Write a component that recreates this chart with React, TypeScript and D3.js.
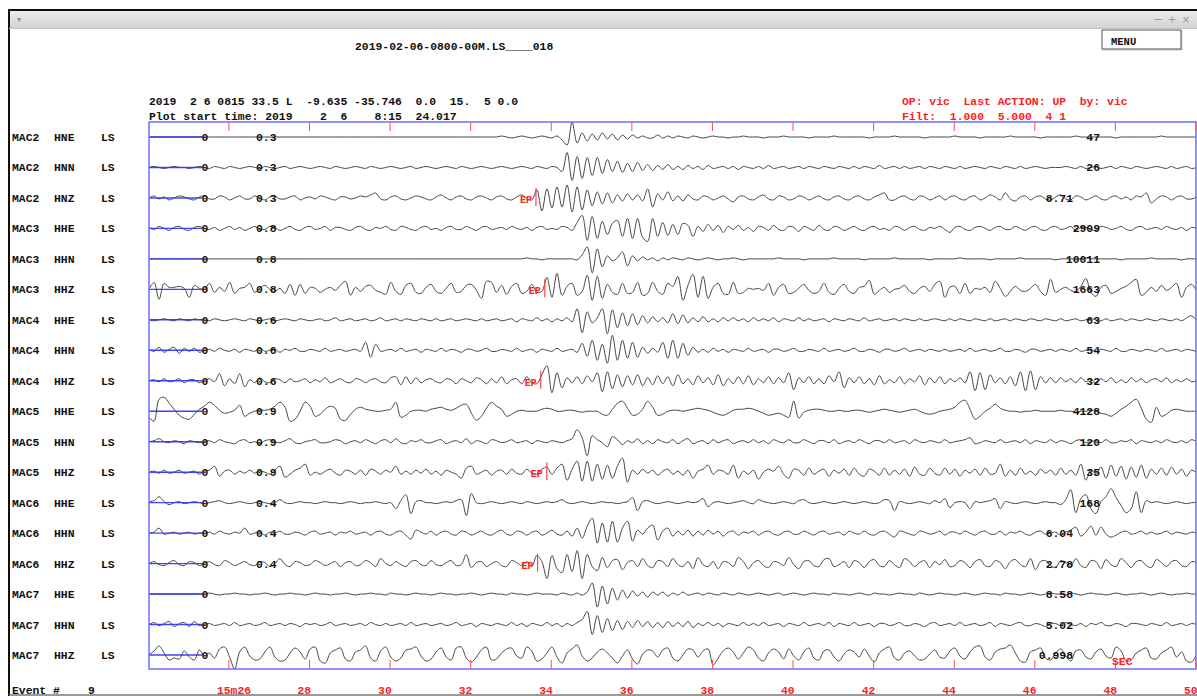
import React from "react";
import * as d3 from "d3";

// ---------- header / annotation text ----------
const FILE_TITLE = "2019-02-06-0800-00M.LS____018";
const HYPO_LINE = "2019  2 6 0815 33.5 L  -9.635 -35.746  0.0  15.  5 0.0";
const START_LINE = "Plot start time: 2019    2  6    8:15  24.017";
const OP_LINE = "OP: vic  Last ACTION: UP  by: vic";
const FILT_LINE = "Filt:  1.000  5.000  4 1";
const EVENT_LABEL = "Event #";
const EVENT_NO = "9";
const UNIT_LABEL = "SEC";

// ---------- time axis ----------
const T_START = 24.017;
const T_END = 50;
const DT = 0.125;
const TICK_SECONDS = [26, 28, 30, 32, 34, 36, 38, 40, 42, 44, 46, 48, 50];
const TICK_LABELS = ["15m26", "28", "30", "32", "34", "36", "38", "40", "42", "44", "46", "48", "50"];
const BASELINE_END_T = 25.33;

// ---------- channels ----------
const STATIONS = ["MAC2", "MAC2", "MAC2", "MAC3", "MAC3", "MAC3", "MAC4", "MAC4", "MAC4", "MAC5", "MAC5", "MAC5", "MAC6", "MAC6", "MAC6", "MAC7", "MAC7", "MAC7"];
const COMPONENTS = ["HNE", "HNN", "HNZ", "HHE", "HHN", "HHZ", "HHE", "HHN", "HHZ", "HHE", "HHN", "HHZ", "HHE", "HHN", "HHZ", "HHE", "HHN", "HHZ"];
const NETWORK = "LS";
const SCALE_LABELS = ["0.3", "0.3", "0.3", "0.8", "0.8", "0.8", "0.6", "0.6", "0.6", "0.9", "0.9", "0.9", "0.4", "0.4", "0.4", "", "", ""];
const MAX_AMPS = ["47", "26", "8.71", "2909", "10011", "1663", "63", "54", "32", "4128", "120", "35", "168", "6.04", "2.78", "8.58", "5.02", "0.998"];

// P picks: trace index and time (s)
const EP_TRACES = [2, 5, 8, 11, 14];
const EP_TIMES = [33.62, 33.84, 33.74, 33.89, 33.66];

// ---------- waveform samples (every 0.125 s from plot start) ----------
const W_MAC2_HNE = [
  0,0,0,0,0,0,0,0,0,0,0,0,0,0,0,0,0,0,0,0,
  0,0,0,0,0,0,0,0,0,0,0,0,0,0,0,0,0,0,0,0,
  0,0,0,0,0,0,0,0,0,0,0,0,0,0,0,0,0,0,0,0,
  0,0,0,0,0,0,0,0,0,0,1,0,-1,0,1,0,-1,0,1,0,
  -1,1,-3,-8,15,-6,4,-4,3,-3,4,-2,3,-3,2,-2,2,-1,1,-1,
  -1,2,-1,1,-1,1,0,-1,1,0,-1,0,1,0,0,-1,0,0,1,0,
  0,0,-1,0,0,0,1,0,0,0,0,-1,0,0,0,0,1,0,0,0,
  0,0,0,-1,0,0,0,0,1,0,0,0,0,0,-1,0,0,0,0,0,
  1,0,0,0,0,-1,0,0,0,0,0,1,0,0,0,0,0,-1,0,0,
  0,0,0,0,1,0,0,0,0,0,0,0,-1,0,0,0,0,0,0,0,
  0,1,0,0,0,0,0,0,0,
];
const W_MAC2_HNN = [
  0,1,0,-1,0,1,0,0,-1,0,1,0,-1,1,0,-1,1,0,-1,0,
  1,0,-1,1,0,-1,0,1,-1,0,1,0,-1,0,1,0,-1,1,0,-1,
  0,1,0,-1,1,0,-1,0,1,0,-1,0,1,-1,0,1,0,-1,0,1,
  0,-1,1,0,-1,0,1,0,-1,0,1,0,-1,0,1,0,-1,1,0,-1,
  1,0,-4,15,-13,11,-11,10,-8,10,-6,8,-4,6,-5,4,-4,5,-3,3,
  -3,2,-2,3,-2,1,-2,2,-1,1,-2,2,-1,0,1,-1,1,-2,1,0,
  -1,1,-1,2,-1,0,1,-1,0,1,-1,1,0,-1,1,0,-1,1,0,-1,
  1,-1,1,0,-1,2,-1,0,1,-1,1,-1,0,1,-1,1,0,-1,1,0,
  -1,1,-1,0,1,0,-1,1,0,-1,1,0,-1,1,-1,0,1,0,-1,0,
  0,0,1,0,-1,1,-1,0,1,-1,0,1,-1,1,0,-1,1,0,-1,0,
  1,0,-1,1,-1,0,1,-1,0,
];
const W_MAC2_HNZ = [
  0,2,-1,1,-2,0,2,1,-1,-2,1,2,-1,-1,2,1,-2,0,2,-1,
  -1,2,0,-2,1,2,-1,-1,1,2,-2,0,1,-1,2,1,-1,-2,1,1,
  -1,0,2,1,3,5,-1,-2,1,2,-1,-2,0,2,1,-1,-2,1,3,0,
  -2,1,2,-1,-2,1,2,0,-2,1,2,-1,-2,1,3,-1,-2,8,-13,9,
  -10,11,-9,13,-14,11,-12,8,-8,6,-6,5,-5,3,-3,4,-2,3,-3,9,
  -9,4,-2,6,-3,2,-3,3,-1,-2,2,1,-2,0,2,-1,-4,1,2,-1,
  -2,1,3,-1,-2,2,1,-2,-1,2,1,-2,0,2,-1,-2,1,2,-1,-2,
  1,2,-1,-2,1,3,5,-2,-2,1,2,-1,-2,2,1,-2,0,2,-2,1,
  2,-1,-2,1,2,-2,0,3,1,-2,5,-1,-3,1,2,-2,1,2,-1,-2,
  1,3,-1,-2,2,1,-2,0,2,-1,-2,1,2,-1,1,-2,2,1,5,-5,
  -1,2,1,-2,1,2,-1,-1,1,
];
const W_MAC3_HHE = [
  1,-1,2,0,-2,1,2,-1,-2,1,2,0,-1,1,-2,0,2,-1,1,-2,
  0,2,-1,-1,2,1,-2,0,2,-1,-2,1,2,-1,0,2,-2,1,1,-1,
  -2,1,2,-1,-2,1,0,2,-1,-2,2,1,-1,-2,1,2,-1,0,-2,1,
  2,-1,-1,2,0,-2,1,2,-1,0,1,-1,2,0,-1,1,-2,1,2,-1,
  0,-1,2,1,-2,6,13,-12,12,-10,7,-6,5,8,-8,10,-10,10,-9,-13,
  10,-8,6,-7,4,-6,5,3,-8,2,-3,4,-2,3,-4,2,-1,3,-2,1,
  -3,2,1,-2,3,-1,-2,2,1,-3,2,0,-2,3,-1,-2,2,1,-2,0,
  2,-1,-2,1,2,-1,0,-2,2,1,-2,1,2,-1,-2,1,0,2,-1,-4,
  1,2,-1,-2,1,2,0,-2,1,2,-1,-1,2,0,-2,1,2,-1,-2,1,
  2,-1,0,2,-2,1,1,-1,-2,2,1,-1,0,2,-1,-2,1,2,-1,0,
  1,-1,2,0,-1,1,-2,1,0,
];
const W_MAC3_HHN = [
  0,0,0,0,0,0,0,0,0,0,0,0,0,0,0,0,0,0,0,0,
  0,0,0,0,0,0,0,0,0,0,0,0,0,0,0,0,0,0,0,0,
  0,0,0,0,0,0,0,0,0,0,0,0,0,0,0,0,0,0,0,0,
  0,0,0,0,0,0,0,0,0,0,0,0,0,0,0,1,0,0,-1,0,
  0,0,0,0,0,-1,4,12,-14,10,-8,3,-2,1,7,-7,3,-2,2,-1,
  1,-2,1,-1,1,0,-1,1,0,-1,0,1,0,-1,0,0,1,0,-1,0,
  0,0,0,0,0,1,0,0,0,0,-1,0,0,0,0,0,1,0,0,0,
  0,0,-1,0,0,0,0,0,1,0,0,0,0,0,0,-1,0,0,0,0,
  0,1,0,0,0,0,0,-1,0,0,0,0,0,1,0,0,0,0,0,0,
  -1,0,0,0,0,0,1,0,0,0,0,0,0,-1,0,0,0,0,0,1,
  0,0,0,0,0,-1,0,0,0,
];
const W_MAC3_HHZ = [
  0,7,-10,6,2,2,3,1,-8,4,1,0,6,-3,2,-2,7,-4,1,2,
  6,-3,1,4,0,-2,1,-4,5,-6,5,-4,2,1,-3,0,2,-1,4,8,
  -6,2,-2,3,4,-1,-3,-5,7,-2,-5,4,6,-3,-4,2,5,-2,-4,1,
  6,-3,-2,4,5,-1,-9,8,7,-3,4,-5,3,6,-4,-2,5,-3,-2,12,
  -8,16,-6,3,6,-6,-2,14,-11,13,-9,5,-3,-5,6,-4,-3,7,-6,-4,
  7,-2,-5,6,3,13,-11,4,15,-8,13,-9,2,6,-4,-5,7,-4,-3,1,
  0,1,-1,6,-6,2,5,-4,-3,1,5,-1,-4,-2,6,-3,-5,1,5,-2,
  -4,2,3,9,-5,-1,2,-3,0,1,4,-2,-4,1,3,-2,5,8,-8,2,
  3,-4,6,-4,1,0,2,-3,8,1,-7,-2,3,-1,-2,1,5,-2,-6,10,
  -3,0,2,-1,-2,3,11,-3,-7,2,4,-4,-2,1,3,7,10,-6,-3,2,
  -2,4,-1,2,6,-8,2,5,-2,
];
const W_MAC4_HHE = [
  0,-1,0,1,0,-1,1,0,-1,1,0,0,-1,1,0,-1,0,1,0,-1,
  1,0,-1,0,1,-1,0,1,0,-1,1,0,-1,0,1,-1,0,2,-1,0,
  1,-1,0,1,-1,0,2,-1,0,1,-1,1,0,-1,1,0,-1,1,-1,0,
  1,-1,0,1,0,-1,1,-1,0,1,-1,0,1,-2,1,0,-1,2,-1,1,
  -2,1,-1,2,-2,11,-13,8,-3,2,11,-14,10,-8,7,-6,6,-5,4,-3,
  3,-2,2,-3,6,-4,5,-3,2,-2,3,-2,1,-2,2,-1,2,-1,1,-2,
  2,-1,1,-1,2,-2,1,0,-1,2,-1,1,-1,0,1,-2,1,0,-1,1,
  0,-1,2,-1,0,1,-1,0,1,-1,1,0,-1,1,-1,0,1,0,-1,1,
  -1,1,0,-1,1,0,-1,1,-1,0,1,-1,1,0,-1,1,0,-1,1,0,
  -1,1,-1,0,1,-1,0,1,0,-1,1,-1,0,1,-1,1,0,-1,1,0,
  -1,1,0,-1,1,-1,2,4,-1,
];
const W_MAC4_HHN = [
  1,-1,3,-2,1,3,-3,2,-1,2,-2,0,1,-1,2,0,-1,1,-2,1,
  0,-1,2,-1,0,1,-2,1,0,2,-1,-1,1,0,-1,2,-1,0,1,-1,
  0,1,-1,8,-7,6,-1,0,1,-1,2,-1,0,1,-2,1,0,-1,2,-1,
  1,0,-2,1,1,-1,0,2,-1,-1,1,0,-1,2,-1,0,1,-2,1,0,
  -1,2,-1,0,1,-2,7,-6,10,-10,6,-13,15,-10,10,-8,8,-7,3,-3,
  2,-2,8,-8,10,-8,7,-5,3,-2,1,-2,2,-1,1,-2,1,0,-1,2,
  -1,0,1,-2,1,1,-1,0,2,-1,-1,1,0,-1,2,-1,0,1,-1,0,
  2,-1,-1,1,0,-2,1,1,-1,0,2,-1,0,1,-1,1,0,-1,1,-1,
  0,1,-1,2,-1,0,1,-1,0,2,-1,-1,1,0,-2,1,1,-1,0,1,
  -1,1,0,-1,2,-1,0,1,-1,1,0,-1,2,-1,-1,1,0,-1,1,0,
  -1,2,-1,0,1,-1,1,0,-1,
];
const W_MAC4_HHZ = [
  0,1,-1,2,-1,0,2,-2,1,1,-2,0,2,-1,7,-5,2,-3,7,-6,
  1,-2,3,-1,-2,2,1,-2,2,-1,0,2,-2,1,-1,3,-2,0,2,-1,
  -2,2,1,-2,1,2,-1,-2,3,4,-4,4,-3,3,-2,1,2,-1,-2,2,
  1,-3,2,0,-2,3,1,-3,2,-2,4,-3,1,2,-3,4,-2,-3,6,15,
  -12,8,-7,3,-2,4,-3,5,-1,8,-11,9,-8,6,-6,5,-4,6,-5,3,
  -4,5,-3,4,-5,6,-3,2,-4,5,-2,3,-4,6,-5,2,-3,4,-3,5,
  -4,2,-2,4,-3,3,-2,8,-9,3,-2,4,-3,2,-3,5,-1,9,-7,3,
  -2,4,-3,2,-4,5,-3,1,-2,4,-3,2,-1,5,-4,3,-2,4,-3,2,
  -1,3,-2,9,-10,8,-9,6,-2,3,-3,4,-5,9,-10,10,-9,4,-2,3,
  -2,3,-1,2,-2,3,-1,2,-3,2,-1,3,-2,1,-2,3,-1,2,-2,1,
  2,-1,3,-2,1,-1,2,-1,0,
];
const W_MAC5_HHE = [
  -6,-10,12,14,8,2,-4,-7,-8,-3,2,5,9,6,1,-2,-1,1,6,-5,
  -2,0,1,1,2,5,9,4,-10,-8,0,9,5,-5,-3,2,5,3,-8,-9,
  -3,2,4,2,1,0,0,1,2,9,-6,-4,0,1,1,0,2,3,4,2,
  1,3,6,7,-2,-9,-5,3,9,5,2,-5,-3,0,1,0,0,0,2,3,
  2,0,0,1,1,0,-1,0,0,0,-3,-4,2,8,10,3,-4,-3,2,10,
  4,-4,-3,0,1,1,0,1,2,3,2,1,-1,-3,-4,-2,1,2,2,3,
  2,0,-2,-4,-3,-2,-4,-6,10,-7,-1,1,2,2,1,0,0,1,0,0,
  1,1,0,-1,0,1,2,1,0,-1,0,1,2,0,-2,-3,-2,0,1,2,
  4,9,11,2,-8,-5,0,3,7,3,1,0,0,-1,0,0,1,0,0,0,
  0,1,0,0,-1,0,0,1,0,-2,-3,-5,-2,2,5,9,12,3,-8,-11,
  4,-5,-3,1,2,1,0,0,0,
];
const W_MAC5_HHN = [
  0,1,3,0,-1,1,0,-2,1,0,-1,0,1,-1,2,0,-1,-2,1,2,
  -1,0,-2,1,2,0,-1,1,3,-1,-2,0,1,2,-1,-1,0,2,1,-2,
  0,1,-1,2,0,-2,1,2,-1,3,-1,-2,1,0,2,-1,-1,1,2,-2,
  0,1,-1,3,-2,1,0,-2,2,1,-1,0,2,-1,0,1,-2,1,0,-1,
  1,0,-1,1,3,12,4,-14,6,2,-1,-5,5,2,-3,1,-1,3,-2,1,
  -2,2,0,-1,2,-2,1,3,-2,0,1,-2,2,-1,1,2,-2,0,1,-1,
  2,-1,1,-2,2,0,-1,2,-1,-1,2,0,-2,1,1,-1,2,-2,0,1,
  -1,2,0,-2,1,1,-1,2,-1,0,1,-2,2,0,-1,1,0,-1,2,-1,
  0,1,2,4,-2,-1,1,0,-1,2,-1,0,1,-1,2,-2,1,0,-1,2,
  -1,1,0,-2,1,2,-1,0,1,-1,2,-1,-1,1,0,2,-2,1,0,-1,
  1,-1,2,0,-1,1,-1,2,0,
];
const W_MAC5_HHZ = [
  0,1,-1,2,-1,0,2,-1,0,1,-2,1,2,6,-4,1,2,-2,1,-1,
  2,-1,1,0,-2,2,6,-5,-2,2,4,8,-3,0,-2,1,3,-1,-3,2,
  1,-2,2,-3,3,1,-2,2,0,6,-2,1,-2,2,-1,3,-2,1,-3,2,
  0,-2,-6,4,6,-2,0,2,-3,1,2,-2,3,-1,-2,3,-1,-2,3,5,
  -2,4,8,-8,3,11,-9,11,-9,8,-7,7,-6,6,14,-10,2,-2,3,-1,
  2,-3,1,3,-2,1,-3,2,-6,1,3,7,-2,2,1,-2,7,-6,1,-2,
  2,-7,0,3,1,6,-2,-6,3,2,-3,4,-2,1,3,-4,2,-1,3,-3,
  4,-2,-4,3,1,-3,4,-3,2,-2,3,-4,5,-2,-3,4,-1,-3,4,-2,
  3,-4,2,-1,3,-3,4,-2,-1,8,-4,2,-3,4,-2,1,-3,3,-1,2,
  -3,4,-2,2,-3,8,-8,3,-2,5,-6,7,-4,6,-7,5,-5,7,-6,3,
  -2,4,-3,5,-2,3,-4,2,-1,
];
const W_MAC6_HHE = [
  1,2,6,1,-2,0,1,-1,0,1,0,-1,0,1,2,0,-1,0,1,0,
  -1,0,1,0,-1,0,3,0,-1,0,1,0,0,-1,0,1,0,0,-1,0,
  1,0,-1,0,0,1,0,-1,0,-6,2,8,-11,1,2,0,0,-1,0,1,
  0,2,3,-13,9,0,-1,0,1,0,-1,0,1,0,-1,1,0,-1,0,1,
  0,1,3,0,-1,0,1,0,-1,0,1,0,0,-1,0,1,5,-8,1,2,
  0,-1,0,1,0,-1,0,1,0,1,4,-4,0,1,0,-1,0,1,2,0,
  -1,3,1,0,-1,0,1,0,-1,2,3,0,-1,0,1,0,-1,0,1,0,
  -1,0,1,0,-1,0,3,2,-8,1,0,-1,0,1,0,-1,2,0,4,-5,
  0,1,0,-6,1,0,1,2,4,-6,1,0,-1,0,1,0,-1,0,1,0,
  0,-2,3,13,-10,4,8,-6,-11,1,6,14,5,-3,-10,-6,11,-10,2,0,
  1,0,-1,0,1,0,-1,0,0,
];
const W_MAC6_HHN = [
  0,1,5,-1,0,1,-1,0,1,-1,0,0,1,-1,2,0,-1,1,0,5,
  -1,0,1,-2,1,0,2,-1,-1,1,0,-2,1,2,-1,0,1,-2,1,0,
  2,-1,0,1,-2,1,2,-1,-2,1,2,-2,-6,3,1,-1,2,-2,1,2,
  -1,-2,2,1,-2,0,2,-1,-2,1,3,-1,-2,2,1,-2,1,2,-2,0,
  3,-1,-2,2,-3,5,-5,7,15,-10,10,-9,12,-9,5,12,-8,3,-1,5,
  8,-7,2,5,-3,2,-2,3,-3,2,-2,3,-1,2,-3,1,2,-2,1,0,
  2,-2,1,2,-1,-2,1,2,-1,-1,2,0,-2,1,2,-1,0,1,-2,2,
  0,-1,2,-1,-2,1,2,-1,-4,2,1,-1,-2,2,1,-1,0,2,-2,1,
  1,-1,2,0,-2,1,2,-1,-1,2,-2,1,0,2,-1,-2,1,2,-1,0,
  1,-2,1,3,6,-3,1,7,-2,6,-1,-4,-2,1,2,-1,0,2,-1,1,
  -1,0,2,-1,1,0,-1,1,0,
];
const W_MAC6_HHZ = [
  0,2,-1,-2,1,3,-1,-2,2,1,-2,0,2,-1,-2,3,1,-2,0,2,
  -1,-2,2,1,-3,0,5,-1,-3,2,1,-2,-1,3,1,-2,0,2,-3,1,
  2,-2,-1,3,1,-3,5,0,-2,2,-1,-3,2,3,-1,-2,3,-1,-2,1,
  3,-2,-1,9,-4,1,2,-3,0,2,-2,-3,3,1,-2,2,-3,8,2,-15,
  8,-5,-9,9,-8,13,-15,9,-3,-7,6,-4,3,4,-6,1,3,-3,5,-2,
  -4,3,2,-3,5,-1,-3,2,-5,6,-1,-3,2,-5,2,1,-3,6,2,-5,
  1,3,-2,-4,2,1,-2,6,-1,-5,2,3,-2,-3,4,5,-3,-1,2,-4,
  3,1,-4,2,4,-2,-3,3,-1,-4,5,2,-3,1,3,-4,2,-1,4,-3,
  -2,3,1,-4,2,4,-2,-3,3,1,-5,2,4,-1,-3,5,-6,2,3,-2,
  -4,3,1,-3,5,-2,-4,3,2,-5,4,-1,-3,5,1,-4,2,3,-2,-4,
  4,1,-3,2,3,-2,-3,2,1,
];
const W_MAC7_HHE = [
  0,0,0,0,0,0,0,0,0,0,0,0,1,0,-1,0,0,1,0,0,
  -1,0,0,1,0,-1,0,0,1,0,0,-1,0,1,0,0,-1,0,0,1,
  0,-1,0,0,1,0,0,-1,1,0,0,-1,0,1,0,0,-1,0,1,0,
  0,-1,0,0,1,0,-1,0,1,0,0,-1,1,0,0,-1,0,1,0,0,
  0,-1,1,0,-1,1,-1,2,11,-13,8,-10,6,-6,4,-4,3,-2,2,-3,
  2,-1,2,-2,1,-1,2,-1,0,1,-1,1,0,-1,1,0,-1,1,0,-1,
  0,1,0,-1,0,1,-1,0,1,0,-1,0,1,0,0,-1,1,0,0,-1,
  0,1,0,-1,1,0,0,-1,0,1,0,0,-1,1,0,-1,0,1,0,0,
  -1,0,1,0,-1,0,1,0,0,-1,1,0,0,-1,0,1,0,-1,0,1,
  0,0,-1,1,0,-1,0,1,0,0,-1,0,1,0,-1,0,0,1,0,-1,
  0,1,0,-1,0,0,1,0,0,
];
const W_MAC7_HHN = [
  0,2,-1,1,3,-2,1,2,-2,3,-1,0,1,-1,0,1,-1,2,-1,0,
  1,-1,0,2,-1,0,1,-1,1,0,-2,1,0,1,-1,0,2,-1,0,1,
  -1,0,1,-1,2,0,-1,1,-1,0,1,-1,2,-1,0,1,-1,0,1,-1,
  0,2,-1,0,1,-2,1,0,-1,1,0,-1,2,-1,1,-2,1,0,-1,2,
  -1,1,-2,1,-1,2,5,13,-10,9,-8,6,-6,4,-5,3,-3,4,-2,3,
  -3,2,-3,3,-2,2,-2,3,-3,1,-1,2,-1,1,-2,1,0,-1,2,-1,
  1,-1,2,-1,0,1,-2,1,0,-1,2,-1,0,1,-1,2,-2,1,0,-1,
  2,-1,0,1,-2,1,1,-1,0,2,-1,-1,1,0,-2,1,2,-1,0,1,
  -1,2,-1,0,1,-1,0,2,-2,1,0,-1,1,2,-1,-1,1,0,-2,1,
  1,-1,2,0,-1,1,-2,1,0,2,-1,-1,1,0,-2,1,1,0,-1,1,
  0,-1,2,-1,0,1,-1,1,0,
];
const W_MAC7_HHZ = [
  0,4,9,2,-5,-3,-4,4,-2,-5,5,-1,2,-3,6,8,-2,-14,3,8,
  -1,-5,-4,3,8,-2,-6,-5,2,7,3,-4,6,8,-6,-8,2,5,7,-4,
  -6,3,5,9,-3,-6,4,8,-2,-6,-3,5,6,8,-1,-6,-4,3,7,-2,
  -5,7,8,-3,-7,-2,5,8,-5,-4,2,6,7,-1,-3,8,4,-6,-4,2,
  8,-2,-8,2,6,10,-1,-6,-3,3,6,2,-3,-8,-1,5,-4,-9,1,5,
  4,-2,5,7,-3,-6,0,6,5,-2,4,6,-10,-3,4,7,3,-4,2,8,
  5,-3,-6,2,6,3,-4,6,-1,-5,3,7,-3,-5,4,5,-2,-6,1,5,
  3,-2,6,-1,-7,2,6,8,-3,-5,2,4,-1,-5,-4,1,5,-2,-3,4,
  7,-1,-4,3,8,9,-2,-5,3,6,7,10,2,-6,-7,3,5,7,-3,-5,
  2,6,-1,-6,4,5,-2,-4,3,6,-1,-3,8,4,-6,-5,2,5,7,-3,
  -4,2,5,8,-2,3,-6,-7,1,
];

const WAVEFORMS = [
  W_MAC2_HNE, W_MAC2_HNN, W_MAC2_HNZ,
  W_MAC3_HHE, W_MAC3_HHN, W_MAC3_HHZ,
  W_MAC4_HHE, W_MAC4_HHN, W_MAC4_HHZ,
  W_MAC5_HHE, W_MAC5_HHN, W_MAC5_HHZ,
  W_MAC6_HHE, W_MAC6_HHN, W_MAC6_HHZ,
  W_MAC7_HHE, W_MAC7_HHN, W_MAC7_HHZ,
];

const FONT = "'Liberation Mono', 'DejaVu Sans Mono', monospace";
const FS = 11.4;

export default function App() {
  React.useEffect(() => {
    document.body.style.margin = "0";
  }, []);

  const W = 1197;
  const H = 696;
  const box = { left: 149, right: 1196, top: 122, bottom: 669 };

  const x = d3.scaleLinear().domain([T_START, T_END]).range([box.left, box.right]);
  const rowY = d3
    .scalePoint<number>()
    .domain(d3.range(STATIONS.length))
    .range([137, 655]);
  const ampPx = d3.scaleLinear().domain([-15, 15]).range([15, -15]);

  const makePath = (data: number[], cy: number) =>
    d3
      .line<number>()
      .x((_, i) => x(T_START + i * DT))
      .y((v) => cy + ampPx(v))
      .curve(d3.curveCatmullRom.alpha(0.5))(data) || "";

  const red = "#ff2020";

  return (
    <div style={{ position: "absolute", left: 0, top: 0 }}>
      <svg width={W} height={H} style={{ display: "block", background: "#fff" }}>
        <defs>
          <linearGradient id="tb" x1="0" y1="0" x2="0" y2="1">
            <stop offset="0" stopColor="#ececec" />
            <stop offset="1" stopColor="#d2d2d2" />
          </linearGradient>
          <clipPath id="plotclip">
            <rect x={box.left} y={box.top - 20} width={box.right - box.left} height={box.bottom - box.top + 40} />
          </clipPath>
        </defs>
        <rect x={0} y={0} width={W} height={H} fill="#fff" />

        {/* window chrome */}
        <rect x={9} y={11} width={W - 9} height={17} fill="url(#tb)" />
        <line x1={8} x2={W} y1={10} y2={10} stroke="#111" strokeWidth={2} />
        <line x1={9} x2={9} y1={10} y2={H} stroke="#111" strokeWidth={2} />
        <line x1={9} x2={W} y1={28.5} y2={28.5} stroke="#c4c4c4" strokeWidth={1} />
        <line x1={9} x2={W} y1={695} y2={695} stroke="#777" strokeWidth={1.5} />
        <text x={17} y={22} fontSize={8} fill="#888" fontFamily="DejaVu Sans">▾</text>
        <text x={1158} y={23} fontSize={11} fill="#999" fontFamily="DejaVu Sans" textAnchor="middle">−</text>
        <text x={1172} y={23} fontSize={11} fill="#999" fontFamily="DejaVu Sans" textAnchor="middle">+</text>
        <text x={1186} y={23} fontSize={10} fill="#999" fontFamily="DejaVu Sans" textAnchor="middle">×</text>

        {/* MENU button */}
        <rect x={1102} y={30} width={79} height={19} fill="#fff" stroke="#555" strokeWidth={1} />
        <line x1={1181.5} x2={1181.5} y1={30} y2={50} stroke="#999" strokeWidth={1.5} />
        <line x1={1102} x2={1182} y1={49.5} y2={49.5} stroke="#999" strokeWidth={1.5} />
        <text x={1111} y={44.5} fontFamily={FONT} fontWeight="bold" fontSize={10.5} fill="#111">MENU</text>

        {/* header */}
        <g fontFamily={FONT} fontWeight="bold" fontSize={FS} style={{ whiteSpace: "pre" }}>
          <text x={355} y={50} fill="#111" xmlSpace="preserve">{FILE_TITLE}</text>
          <text x={149} y={105} fill="#111" xmlSpace="preserve">{HYPO_LINE}</text>
          <text x={149} y={120} fill="#111" xmlSpace="preserve">{START_LINE}</text>
          <text x={902} y={105} fill={red} xmlSpace="preserve">{OP_LINE}</text>
          <text x={902} y={120} fill={red} xmlSpace="preserve">{FILT_LINE}</text>
        </g>

        {/* traces */}
        <g clipPath="url(#plotclip)">
          {WAVEFORMS.map((w, k) => (
            <path key={"w" + k} d={makePath(w, rowY(k)!)} fill="none" stroke="#474747" strokeWidth={1} />
          ))}
        </g>
        {WAVEFORMS.map((_, k) => (
          <line
            key={"bl" + k}
            x1={x(T_START)}
            x2={x(BASELINE_END_T)}
            y1={rowY(k)!}
            y2={rowY(k)!}
            stroke="#2f2fff"
            strokeWidth={1.4}
            opacity={0.9}
          />
        ))}

        {/* plot frame */}
        <rect
          x={box.left}
          y={box.top}
          width={box.right - box.left}
          height={box.bottom - box.top}
          fill="none"
          stroke="#6e6eff"
          strokeWidth={1.5}
        />

        {/* ticks */}
        {TICK_SECONDS.map((t, i) => (
          <g key={"t" + i}>
            <line x1={x(t)} x2={x(t)} y1={box.top} y2={box.top + 9} stroke="#ff5050" strokeWidth={1} />
            <line x1={x(t)} x2={x(t)} y1={box.bottom - 9} y2={box.bottom} stroke="#ff5050" strokeWidth={1} />
            <text
              x={x(t) - 12}
              y={694}
              fill={red}
              fontFamily={FONT}
              fontWeight="bold"
              fontSize={FS}
            >
              {TICK_LABELS[i]}
            </text>
          </g>
        ))}

        {/* channel labels and scale values */}
        <g fontFamily={FONT} fontWeight="bold" fontSize={FS} fill="#111">
          {STATIONS.map((s, k) => {
            const cy = rowY(k)!;
            const amp = MAX_AMPS[k];
            const ampX = amp.includes(".") ? 1073 : 1100;
            return (
              <g key={"l" + k}>
                <text x={12} y={cy + 4}>{s}</text>
                <text x={54} y={cy + 4}>{COMPONENTS[k]}</text>
                <text x={101} y={cy + 4}>{NETWORK}</text>
                <text x={205} y={cy + 4} textAnchor="middle">0</text>
                {SCALE_LABELS[k] && <text x={256} y={cy + 4}>{SCALE_LABELS[k]}</text>}
                <text x={ampX} y={cy + 4} textAnchor="end">{amp}</text>
              </g>
            );
          })}
        </g>

        {/* phase picks */}
        {EP_TRACES.map((k, i) => {
          const cy = rowY(k)!;
          const px = x(EP_TIMES[i]);
          return (
            <g key={"ep" + i}>
              <line x1={px} x2={px} y1={cy - 10} y2={cy + 8} stroke="#ff4040" strokeWidth={1.2} />
              <text x={px - 4} y={cy + 5} textAnchor="end" fill={red} fontFamily={FONT} fontWeight="bold" fontSize={10}>
                EP
              </text>
            </g>
          );
        })}

        <text x={1112} y={665} fill={red} fontFamily={FONT} fontWeight="bold" fontSize={FS}>{UNIT_LABEL}</text>
        <text x={12} y={694} fill="#111" fontFamily={FONT} fontWeight="bold" fontSize={FS}>{EVENT_LABEL}</text>
        <text x={88} y={694} fill="#111" fontFamily={FONT} fontWeight="bold" fontSize={FS}>{EVENT_NO}</text>
      </svg>
    </div>
  );
}
